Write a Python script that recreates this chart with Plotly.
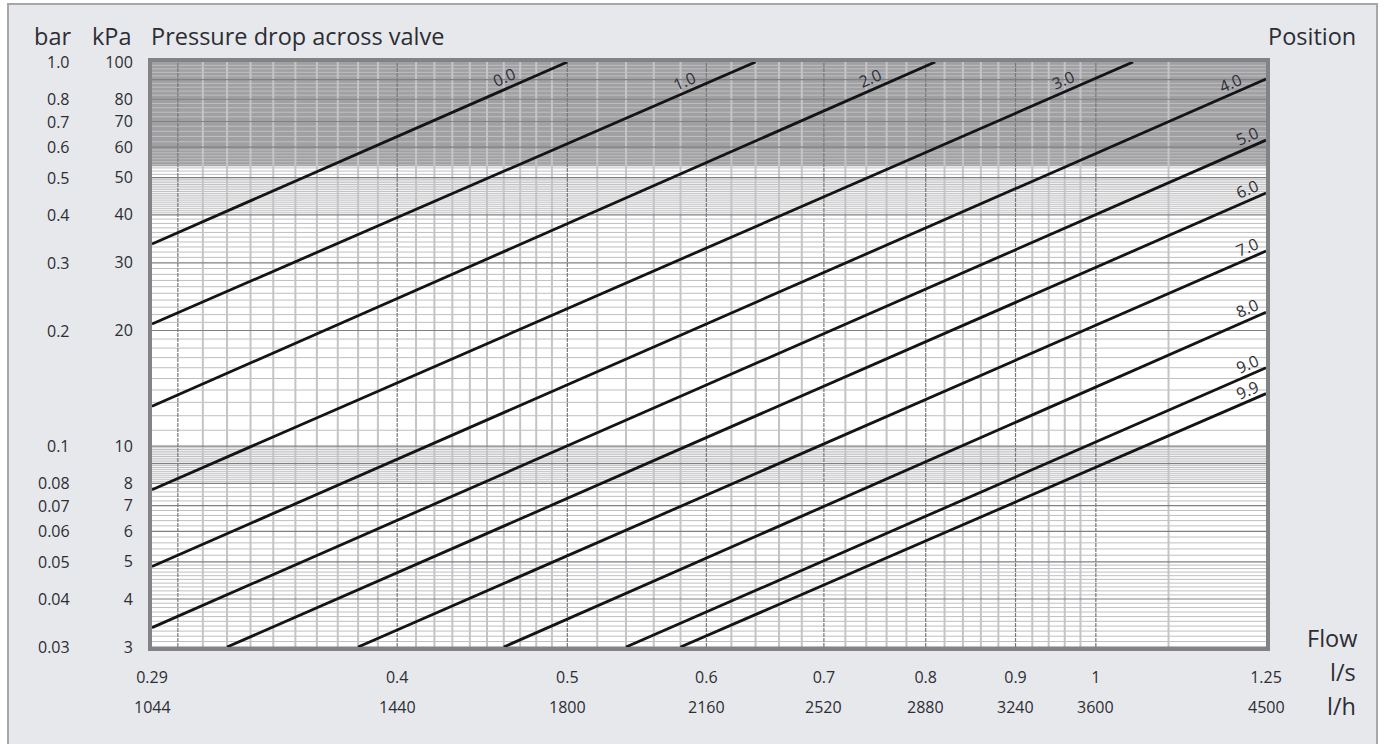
import numpy as np
import plotly.graph_objects as go

# Valve setting curves: each position is a straight line on the log-log chart,
# given by the points where it enters and leaves the plotted area.
positions = ["0.0", "1.0", "2.0", "3.0", "4.0", "5.0", "6.0", "7.0", "8.0", "9.0", "9.9"]
flow_start = [0.29, 0.29, 0.29, 0.29, 0.29, 0.29, 0.32, 0.38, 0.46, 0.54, 0.58]   # l/s
dp_start = [33.6, 20.8, 12.7, 7.7, 4.86, 3.37, 3.0, 3.0, 3.0, 3.0, 3.0]           # kPa
flow_end = [0.50, 0.64, 0.81, 1.05, 1.25, 1.25, 1.25, 1.25, 1.25, 1.25, 1.25]     # l/s
dp_end = [100, 100, 100, 100, 90.3, 62.6, 45.6, 32.2, 22.3, 16.0, 13.7]           # kPa

# flow at which each position label sits along its curve
label_flow = [0.4605, 0.583, 0.744, 0.958, 1.193, 1.22, 1.22, 1.22, 1.22, 1.22, 1.22]

# axis ticks
flow_ticks = [0.29, 0.4, 0.5, 0.6, 0.7, 0.8, 0.9, 1.0, 1.25]
flow_ls_text = ["0.29", "0.4", "0.5", "0.6", "0.7", "0.8", "0.9", "1", "1.25"]
flow_lh_text = ["1044", "1440", "1800", "2160", "2520", "2880", "3240", "3600", "4500"]
kpa_ticks = [3, 4, 5, 6, 7, 8, 10, 20, 30, 40, 50, 60, 70, 80, 100]
kpa_text = ["3", "4", "5", "6", "7", "8", "10", "20", "30", "40", "50", "60", "70", "80", "100"]
bar_text = ["0.03", "0.04", "0.05", "0.06", "0.07", "0.08", "0.1", "0.2", "0.3", "0.4",
            "0.5", "0.6", "0.7", "0.8", "1.0"]

# log-paper grid: (from, to, step)
h_grid_bands = [(3, 5, 0.1), (5, 8, 0.2), (8, 10, 0.1), (10, 20, 1), (20, 40, 1),
                (40, 50, 0.5), (50, 60, 1), (60, 100, 2)]
h_grid_major = [3, 4, 5, 6, 7, 8, 9, 10, 20, 30, 40, 50, 60, 70, 80, 90]
v_grid_bands = [(0.3, 0.5, 0.01), (0.5, 1.0, 0.02), (1.0, 1.25, 0.1)]
v_grid_major = [0.3, 0.4, 0.5, 0.6, 0.7, 0.8, 0.9, 1.0]

shade_from_kpa = 53.5

X_MIN, X_MAX = 0.29, 1.25
Y_MIN, Y_MAX = 3, 100

W, H = 1385, 744
ML, MR, MT, MB = 152, 119, 62, 97
PW, PH = W - ML - MR, H - MT - MB

FONT = "Open Sans"
TXT = "#2c2d35"


def px_to_paper_x(px):
    return (px - ML) / PW


def px_to_paper_y(py):
    return 1 - (py - MT) / PH


def band_values(bands, majors):
    vals = []
    for a, b, s in bands:
        n = int(round((b - a) / s))
        for i in range(1, n):
            v = round(a + i * s, 4)
            if all(abs(v - m) > 1e-6 for m in majors):
                vals.append(v)
    return vals


def h_lines(vals):
    xs, ys = [], []
    for v in vals:
        xs += [X_MIN, X_MAX, None]
        ys += [v, v, None]
    return xs, ys


def v_lines(vals):
    xs, ys = [], []
    for v in vals:
        xs += [v, v, None]
        ys += [Y_MIN, Y_MAX, None]
    return xs, ys


fig = go.Figure()

# minor grid
hx, hy = h_lines(band_values(h_grid_bands, h_grid_major))
fig.add_trace(go.Scatter(x=hx, y=hy, mode="lines", line=dict(color="#bfbfc2", width=1),
                         hoverinfo="skip", showlegend=False))
vx, vy = v_lines(band_values(v_grid_bands, v_grid_major))
fig.add_trace(go.Scatter(x=vx, y=vy, mode="lines", line=dict(color="#c4c4c7", width=2),
                         hoverinfo="skip", showlegend=False))
# major grid
hx, hy = h_lines(h_grid_major)
fig.add_trace(go.Scatter(x=hx, y=hy, mode="lines", line=dict(color="#808083", width=1.2),
                         hoverinfo="skip", showlegend=False))
vx, vy = v_lines(v_grid_major)
fig.add_trace(go.Scatter(x=vx, y=vy, mode="lines", line=dict(color="#78787b", width=1.2, dash="4px,1px"),
                         hoverinfo="skip", showlegend=False))

# setting curves
for name, q0, p0, q1, p1 in zip(positions, flow_start, dp_start, flow_end, dp_end):
    fig.add_trace(go.Scatter(x=[q0, q1], y=[p0, p1], mode="lines", name=name,
                             line=dict(color="#141414", width=2.8),
                             hoverinfo="name", showlegend=False))

annotations = []

# position labels, rotated along the curves
slope_px = 2 * (PH / np.log10(Y_MAX / Y_MIN)) / (PW / np.log10(X_MAX / X_MIN))
angle = -np.degrees(np.arctan(slope_px))
for name, q, q0, p0, q1, p1 in zip(positions, label_flow, flow_start, dp_start, flow_end, dp_end):
    t = (np.log10(q) - np.log10(q0)) / (np.log10(q1) - np.log10(q0))
    ly = np.log10(p0) + t * (np.log10(p1) - np.log10(p0))
    annotations.append(dict(x=np.log10(q), y=ly, xref="x", yref="y", text=name,
                            showarrow=False, textangle=angle, yshift=12,
                            font=dict(family=FONT, size=16, color=TXT)))

# bar column
for v, t in zip(kpa_ticks, bar_text):
    annotations.append(dict(x=px_to_paper_x(72), y=np.log10(v), xref="paper", yref="y",
                            text=t, showarrow=False, xanchor="right", yanchor="middle",
                            font=dict(family=FONT, size=16, color=TXT)))

# l/h row
for v, t in zip(flow_ticks, flow_lh_text):
    annotations.append(dict(x=np.log10(v), y=px_to_paper_y(707), xref="x", yref="paper",
                            text=t, showarrow=False, xanchor="center", yanchor="middle",
                            font=dict(family=FONT, size=16, color=TXT)))

# headings
heads = [
    ("bar", 73, 36, "right"),
    ("kPa", 134, 36, "right"),
    ("Pressure drop across valve", 149, 36, "left"),
    ("Position", 1358, 36, "right"),
    ("Flow", 1359, 638, "right"),
    ("l/s", 1358, 672, "right"),
    ("l/h", 1358, 706, "right"),
]
for t, x, y, anc in heads:
    annotations.append(dict(x=px_to_paper_x(x), y=px_to_paper_y(y), xref="paper", yref="paper",
                            text=t, showarrow=False, xanchor=anc, yanchor="middle",
                            font=dict(family=FONT, size=23.5, color=TXT)))

shapes = [
    # shaded zone in the upper pressure range
    dict(type="rect", xref="x", yref="y", x0=X_MIN, x1=X_MAX, y0=shade_from_kpa, y1=Y_MAX,
         fillcolor="#a0a0a3", line=dict(width=0), layer="below"),
    # white margin around the outer frame
    dict(type="rect", xref="paper", yref="paper", x0=px_to_paper_x(-5), x1=px_to_paper_x(8),
         y0=px_to_paper_y(760), y1=px_to_paper_y(-5), fillcolor="white", line=dict(width=0),
         layer="below"),
    dict(type="rect", xref="paper", yref="paper", x0=px_to_paper_x(-5), x1=px_to_paper_x(1390),
         y0=px_to_paper_y(4), y1=px_to_paper_y(-5), fillcolor="white", line=dict(width=0),
         layer="below"),
    dict(type="rect", xref="paper", yref="paper", x0=px_to_paper_x(1377), x1=px_to_paper_x(1390),
         y0=px_to_paper_y(760), y1=px_to_paper_y(-5), fillcolor="white", line=dict(width=0),
         layer="below"),
    # outer frame
    dict(type="rect", xref="paper", yref="paper", x0=px_to_paper_x(8), x1=px_to_paper_x(1377),
         y0=px_to_paper_y(760), y1=px_to_paper_y(4), fillcolor="rgba(0,0,0,0)",
         line=dict(color="#a7a7a9", width=2), layer="below"),
]

fig.update_layout(
    width=W, height=H,
    margin=dict(l=ML, r=MR, t=MT, b=MB),
    paper_bgcolor="#e7e8eb",
    plot_bgcolor="white",
    showlegend=False,
    annotations=annotations,
    shapes=shapes,
    font=dict(family=FONT, color=TXT),
)
fig.update_xaxes(type="log", range=[np.log10(X_MIN), np.log10(X_MAX)],
                 tickvals=flow_ticks, ticktext=flow_ls_text,
                 ticks="outside", ticklen=13, tickcolor="rgba(0,0,0,0)",
                 tickfont=dict(family=FONT, size=16, color=TXT),
                 showgrid=False, zeroline=False,
                 showline=True, linewidth=4, linecolor="#838386", mirror=True)
fig.update_yaxes(type="log", range=[np.log10(Y_MIN), np.log10(Y_MAX)],
                 tickvals=kpa_ticks, ticktext=kpa_text,
                 ticks="outside", ticklen=12, tickcolor="rgba(0,0,0,0)",
                 tickfont=dict(family=FONT, size=16, color=TXT),
                 showgrid=False, zeroline=False,
                 showline=True, linewidth=4, linecolor="#838386", mirror=True)

fig.write_html("out.html")
